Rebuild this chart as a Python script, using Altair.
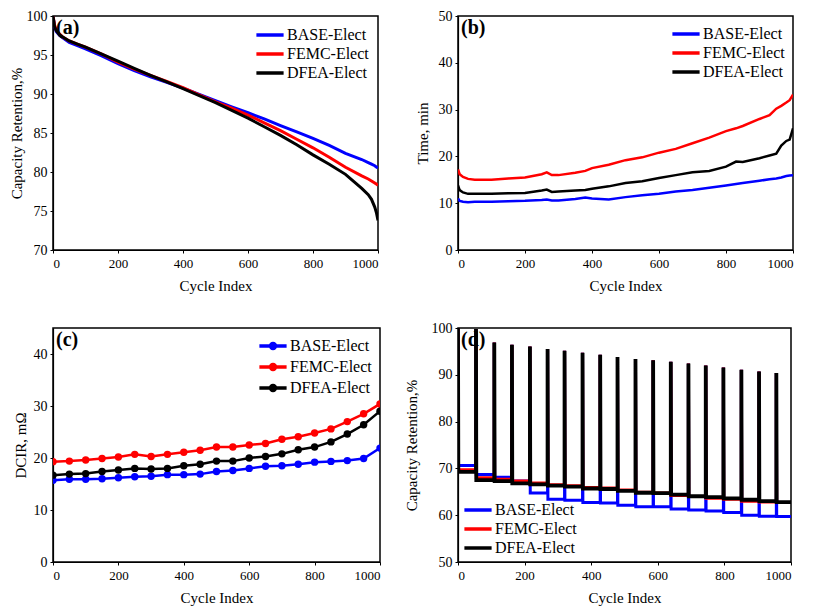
import altair as alt
import pandas as pd

SERIES = ["BASE-Elect", "FEMC-Elect", "DFEA-Elect"]
COLORS = ["#0000ff", "#ff0000", "#000000"]
FONT = "Liberation Serif, Times New Roman, serif"

# ---------- (a) capacity retention vs cycle ----------
a_cycles = [0, 5, 10, 20, 30, 50, 75, 100, 150, 200, 250, 300, 350, 400, 450, 500,
            550, 600, 650, 700, 750, 800, 850, 900, 950, 970, 980, 990, 995, 1000]
a_base = [100, 98.6, 98.0, 97.5, 97.2, 96.6, 96.2, 95.8, 94.9, 93.9, 93.0, 92.2, 91.5,
          90.75, 89.95, 89.15, 88.35, 87.6, 86.8, 85.95, 85.15, 84.3, 83.4, 82.4, 81.6,
          81.2, 81.0, 80.8, 80.65, 80.5]
a_femc = [100, 98.8, 98.2, 97.7, 97.3, 96.8, 96.4, 96.0, 95.1, 94.1, 93.2, 92.4, 91.6,
          90.8, 89.9, 89.0, 88.2, 87.3, 86.3, 85.3, 84.2, 83.1, 81.9, 80.6, 79.5, 79.1,
          78.85, 78.6, 78.45, 78.3]
a_dfea = [100, 98.6, 98.1, 97.6, 97.3, 96.8, 96.4, 96.0, 95.1, 94.2, 93.3, 92.4, 91.55,
          90.7, 89.8, 88.9, 87.9, 86.9, 85.8, 84.7, 83.5, 82.2, 81.0, 79.7, 77.9, 77.1,
          76.5, 75.5, 74.8, 73.8]

# ---------- (b) time vs cycle ----------
b_cycles = [0, 5, 15, 30, 50, 100, 150, 200, 250, 265, 280, 300, 350, 380, 400, 450, 500,
            550, 600, 650, 700, 750, 800, 830, 850, 900, 930, 950, 965, 980, 990, 1000]
b_base = [11.0, 10.5, 10.3, 10.2, 10.3, 10.3, 10.4, 10.5, 10.7, 10.8, 10.6, 10.6, 10.9,
          11.2, 11.0, 10.8, 11.3, 11.7, 12.0, 12.5, 12.8, 13.3, 13.8, 14.1, 14.3, 14.8,
          15.1, 15.3, 15.5, 15.8, 15.9, 16.0]
b_femc = [17.2, 16.2, 15.6, 15.2, 15.0, 15.0, 15.3, 15.5, 16.2, 16.6, 16.0, 16.0, 16.5,
          16.9, 17.5, 18.2, 19.2, 19.8, 20.8, 21.6, 22.8, 24.0, 25.4, 26.0, 26.5, 28.0,
          28.8, 30.2, 30.8, 31.5, 32.0, 33.2]
b_dfea = [13.8, 12.8, 12.3, 12.0, 12.0, 12.0, 12.1, 12.2, 12.7, 12.9, 12.4, 12.5, 12.7,
          12.8, 13.1, 13.6, 14.3, 14.7, 15.4, 16.0, 16.6, 16.9, 17.8, 18.9, 18.8, 19.6,
          20.2, 20.6, 22.3, 23.3, 23.6, 26.0]

# ---------- (c) DCIR vs cycle ----------
c_cycles = [0, 50, 100, 150, 200, 250, 300, 350, 400, 450, 500, 550, 600, 650, 700, 750,
            800, 850, 900, 950, 1000]
c_base = [15.7, 15.9, 15.9, 16.0, 16.2, 16.4, 16.5, 16.8, 16.8, 16.9, 17.4, 17.6, 18.0,
          18.4, 18.5, 18.8, 19.2, 19.35, 19.5, 19.9, 21.9]
c_femc = [19.3, 19.4, 19.6, 19.9, 20.2, 20.7, 20.3, 20.7, 21.1, 21.5, 22.1, 22.1, 22.5,
          22.8, 23.6, 24.1, 24.8, 25.6, 27.0, 28.5, 30.4]
c_dfea = [16.7, 16.9, 17.0, 17.4, 17.7, 18.0, 17.9, 18.0, 18.5, 18.8, 19.4, 19.4, 20.0,
          20.3, 20.8, 21.6, 22.1, 23.1, 24.6, 26.4, 29.0]

# ---------- (d) capacity retention with periodic check-ups ----------
d_spike_cycles = [0, 54, 109, 162, 216, 269, 320, 374, 427, 479, 533, 586, 639, 692, 744,
                  797, 851, 904, 956]
d_spike_peaks = [100, 99.8, 96.9, 96.4, 96.05, 95.5, 95.15, 94.7, 94.3, 93.8, 93.4, 93.1,
                 92.8, 92.4, 92.0, 91.55, 91.1, 90.7, 90.4]
d_base = [70.6, 68.7, 68.1, 67.3, 64.75, 63.4, 63.2, 62.7, 62.6, 62.1, 61.8, 61.8, 61.3,
          61.1, 60.9, 60.6, 60.0, 59.8, 59.7]
d_femc = [69.7, 68.0, 67.7, 67.3, 66.9, 66.5, 66.3, 65.9, 65.8, 65.4, 64.9, 64.75, 64.2,
          64.0, 63.6, 63.4, 63.0, 62.8, 62.7]
d_dfea = [69.25, 67.5, 67.3, 66.8, 66.6, 66.3, 66.1, 65.7, 65.6, 65.2, 64.8, 64.7, 64.4,
          64.05, 63.85, 63.6, 63.3, 63.0, 62.8]
D_END = 1000


def long_df(cycles, *vals):
    rows = []
    for s, v in zip(SERIES, vals):
        for i, (c, y) in enumerate(zip(cycles, v)):
            rows.append({"series": s, "cycle": c, "value": y, "idx": i})
    return pd.DataFrame(rows)


df_a = long_df(a_cycles, a_base, a_femc, a_dfea)
df_b = long_df(b_cycles, b_base, b_femc, b_dfea)
df_c = long_df(c_cycles, c_base, c_femc, c_dfea)

d_rows = []
for s, levels in zip(SERIES, [d_base, d_femc, d_dfea]):
    i = 0
    n = len(d_spike_cycles)
    for k in range(n):
        sx = d_spike_cycles[k]
        end = d_spike_cycles[k + 1] if k + 1 < n else D_END
        for cx, val in [(sx, d_spike_peaks[k]), (sx + 1, levels[k]), (end, levels[k])]:
            d_rows.append({"series": s, "cycle": cx, "value": val, "idx": i})
            i += 1
df_d = pd.DataFrame(d_rows)

LINE_SYM = "M-1.65,0H1.65"
DOT_SYM = "M-1.65,0H1.65M-0.3,0a0.3,0.3 0 1,0 0.6,0a0.3,0.3 0 1,0 -0.6,0"


def color_enc(legend):
    return alt.Color("series:N", scale=alt.Scale(domain=SERIES, range=COLORS),
                     legend=legend, title=None)


def x_enc():
    return alt.X("cycle:Q", scale=alt.Scale(domain=[0, 1000], nice=False),
                 axis=alt.Axis(values=[0, 200, 400, 600, 800, 1000], title="Cycle Index",
                               format="d", grid=False, tickSize=3, labelPadding=4,
                               titlePadding=8))


def y_enc(domain, values, title, tpad):
    return alt.Y("value:Q", scale=alt.Scale(domain=domain, nice=False, zero=False),
                 axis=alt.Axis(values=values, title=title, format="d", grid=False,
                               tickSize=3, labelPadding=3, titlePadding=tpad))


def panel_label(t):
    return alt.Chart(pd.DataFrame({"t": [t]})).mark_text(
        font=FONT, fontSize=20, fontWeight="bold", align="left", baseline="top",
        color="black").encode(text="t:N", x=alt.value(3), y=alt.value(2))


def line_panel(df, ydom, yvals, ytitle, tpad, legend, widths, label, w, h, points=False):
    layers = []
    for s, sw in zip(SERIES, widths):
        base = alt.Chart(df).transform_filter(alt.datum.series == s)
        if points:
            m = base.mark_line(strokeWidth=sw, clip=True,
                               point=alt.OverlayMarkDef(filled=True, size=55))
        else:
            m = base.mark_line(strokeWidth=sw, clip=True)
        layers.append(m.encode(x=x_enc(), y=y_enc(ydom, yvals, ytitle, tpad),
                               color=color_enc(legend), order=alt.Order("idx:Q")))
    layers.append(panel_label(label))
    return alt.layer(*layers).properties(width=w, height=h)


panel_a = line_panel(df_a, [70, 100], [70, 75, 80, 85, 90, 95, 100], "Capacity Retention,%", 2,
                     alt.Legend(orient="top-right", offset=9, symbolType=LINE_SYM),
                     [3, 3, 3], "(a)", 325, 234)
panel_b = line_panel(df_b, [0, 50], [0, 10, 20, 30, 40, 50], "Time, min", 8,
                     alt.Legend(orient="top-right", offset=8, symbolType=LINE_SYM),
                     [2.5, 2.5, 2.5], "(b)", 335, 234)
panel_c = line_panel(df_c, [0, 45], [0, 10, 20, 30, 40], "DCIR, mΩ", 5,
                     alt.Legend(orient="top-right", offset=8, symbolType=DOT_SYM),
                     [2.5, 2.5, 2.5], "(c)", 327, 234, points=True)
panel_d = line_panel(df_d, [50, 100], [50, 60, 70, 80, 90, 100], "Capacity Retention,%", 12,
                     alt.Legend(orient="bottom-left", offset=6, symbolType=LINE_SYM,
                                symbolOffset=4),
                     [3, 3, 3.8], "(d)", 333, 234)

row1 = alt.hconcat(panel_a, panel_b, spacing=80, bounds="flush").resolve_scale(
    color="independent").resolve_legend(color="independent")
row2 = alt.hconcat(panel_c, panel_d, spacing=78, bounds="flush").resolve_scale(
    color="independent").resolve_legend(color="independent")

chart = alt.vconcat(row1, row2, spacing=26).resolve_scale(
    color="independent").resolve_legend(color="independent").properties(
    padding=0, background="white"
).configure_axis(
    labelFont=FONT, titleFont=FONT, labelColor="black", titleColor="black",
    domainColor="black", tickColor="black", titleFontWeight="normal",
    labelFontSize=14, titleFontSize=15, domainWidth=1.2
).configure_axisX(labelFontSize=13).configure_view(
    stroke="black", strokeWidth=1.5
).configure_legend(
    labelFont=FONT, labelFontSize=16, labelColor="black", padding=0, rowPadding=1,
    symbolSize=272, symbolStrokeWidth=3.5, labelOffset=7
)

chart.save("out.html", embed_options={"renderer": "svg", "actions": False})
